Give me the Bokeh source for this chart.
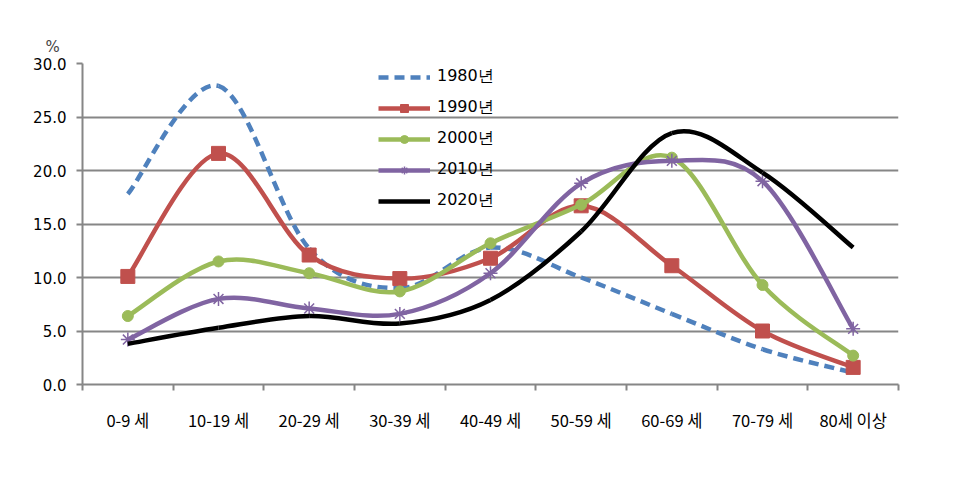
import numpy as np
from bokeh.plotting import figure
from bokeh.models import (Range1d, FixedTicker, SingleIntervalTicker, PrintfTickFormatter,
                          Legend, LegendItem, ColumnDataSource)
from bokeh.embed import file_html
from bokeh.resources import INLINE

categories = ["0-9 세", "10-19 세", "20-29 세", "30-39 세", "40-49 세",
              "50-59 세", "60-69 세", "70-79 세", "80세 이상"]
series_names = ["1980년", "1990년", "2000년", "2010년", "2020년"]
y1980 = [17.8, 27.9, 12.7, 9.0, 12.8, 10.0, 6.6, 3.3, 1.1]
y1990 = [10.1, 21.6, 12.1, 9.9, 11.8, 16.7, 11.1, 5.0, 1.6]
y2000 = [6.4, 11.5, 10.4, 8.7, 13.2, 16.8, 21.2, 9.3, 2.7]
y2010 = [4.2, 8.0, 7.1, 6.6, 10.4, 18.8, 20.9, 19.0, 5.2]
y2020 = [3.8, 5.3, 6.4, 5.7, 7.9, 14.3, 23.5, 19.8, 12.8]
y_ticks_interval = 5

GRID = "#868686"
FONT = "DejaVu Sans"
KFONT = "Noto Sans CJK KR"

p = figure(width=951, height=473, output_backend="svg", toolbar_location=None,
           x_range=Range1d(0, len(categories)), y_range=Range1d(0, 30),
           min_border_left=82, min_border_right=53, min_border_top=63, min_border_bottom=89)
p.outline_line_color = None
p.xgrid.visible = False
p.ygrid.grid_line_color = GRID
p.ygrid.grid_line_width = 2

p.title.text = "%"
p.title.align = "left"
p.title.offset = -37
p.title.text_font = FONT
p.title.text_font_size = "15px"
p.title.text_font_style = "normal"
p.title.standoff = 15

centers = [i + 0.5 for i in range(len(categories))]
bounds = [float(i) for i in range(len(categories) + 1)]

xa = p.xaxis[0]
xa.ticker = FixedTicker(ticks=centers, minor_ticks=bounds)
xa.major_label_overrides = {c: lab for c, lab in zip(centers, categories)}
xa.major_tick_out = 0
xa.major_tick_in = 0
xa.minor_tick_out = 6
xa.minor_tick_in = 0
xa.minor_tick_line_color = GRID
xa.minor_tick_line_width = 2
xa.axis_line_color = GRID
xa.axis_line_width = 2
xa.major_label_text_font = KFONT
xa.major_label_text_font_size = "16.5px"
xa.major_label_text_color = "#000000"
xa.major_label_standoff = 17

ya = p.yaxis[0]
ya.ticker = SingleIntervalTicker(interval=y_ticks_interval)
ya.formatter = PrintfTickFormatter(format="%.1f")
ya.minor_tick_line_color = None
ya.major_tick_out = 6
ya.major_tick_in = 0
ya.major_tick_line_color = GRID
ya.major_tick_line_width = 2
ya.axis_line_color = GRID
ya.axis_line_width = 2
ya.major_label_text_font = FONT
ya.major_label_text_font_size = "15px"
ya.major_label_text_color = "#000000"
ya.major_label_standoff = 10


def bezier_parts(xs, ys):
    P = np.column_stack([xs, ys]).astype(float)
    n = len(P)
    x0, y0, x1, y1, cx0, cy0, cx1, cy1 = ([] for _ in range(8))
    for i in range(n - 1):
        pm = P[i - 1] if i > 0 else P[i]
        pp = P[i + 2] if i + 2 < n else P[i + 1]
        c1 = P[i] + (P[i + 1] - pm) / 6.0
        c2 = P[i + 1] - (pp - P[i]) / 6.0
        x0.append(P[i][0]); y0.append(P[i][1])
        x1.append(P[i + 1][0]); y1.append(P[i + 1][1])
        cx0.append(c1[0]); cy0.append(c1[1])
        cx1.append(c2[0]); cy1.append(c2[1])
    return dict(x0=x0, y0=y0, x1=x1, y1=y1, cx0=cx0, cy0=cy0, cx1=cx1, cy1=cy1)


styles = [
    dict(color="#4F81BD", dash="10 6", marker=None),
    dict(color="#C0504D", dash="solid", marker="square"),
    dict(color="#9BBB59", dash="solid", marker="circle"),
    dict(color="#8064A2", dash="solid", marker="asterisk"),
    dict(color="#000000", dash="solid", marker=None),
]
data = [y1980, y1990, y2000, y2010, y2020]
marker_sizes = {"square": 14, "circle": 11, "asterisk": 14}

nan = float("nan")
items = []
for name, ys, st in zip(series_names, data, styles):
    src = ColumnDataSource(bezier_parts(centers, ys))
    p.bezier(x0="x0", y0="y0", x1="x1", y1="y1", cx0="cx0", cy0="cy0", cx1="cx1", cy1="cy1",
             source=src, line_color=st["color"], line_width=4.5, line_dash=st["dash"])
    leg_r = [p.line(x=[nan], y=[nan], line_color=st["color"], line_width=4.5,
                    line_dash=st["dash"])]
    if st["marker"]:
        m = st["marker"]
        kw = dict(marker=m, size=marker_sizes[m], line_color=st["color"],
                  fill_color=st["color"])
        if m == "asterisk":
            kw["line_width"] = 1.5
        p.scatter(x=centers, y=ys, **kw)
        leg_r.append(p.scatter(x=[nan], y=[nan], **kw))
    items.append(LegendItem(label=name, renderers=leg_r))

legend = Legend(items=items, location=(296, 173), background_fill_alpha=0,
                border_line_color=None, padding=0, margin=0, spacing=10,
                glyph_width=52, glyph_height=20, label_standoff=7,
                label_text_font=FONT, label_text_font_size="16px",
                label_text_color="#000000")
p.add_layout(legend, "center")

open("out.html", "w").write(file_html(p, INLINE))
